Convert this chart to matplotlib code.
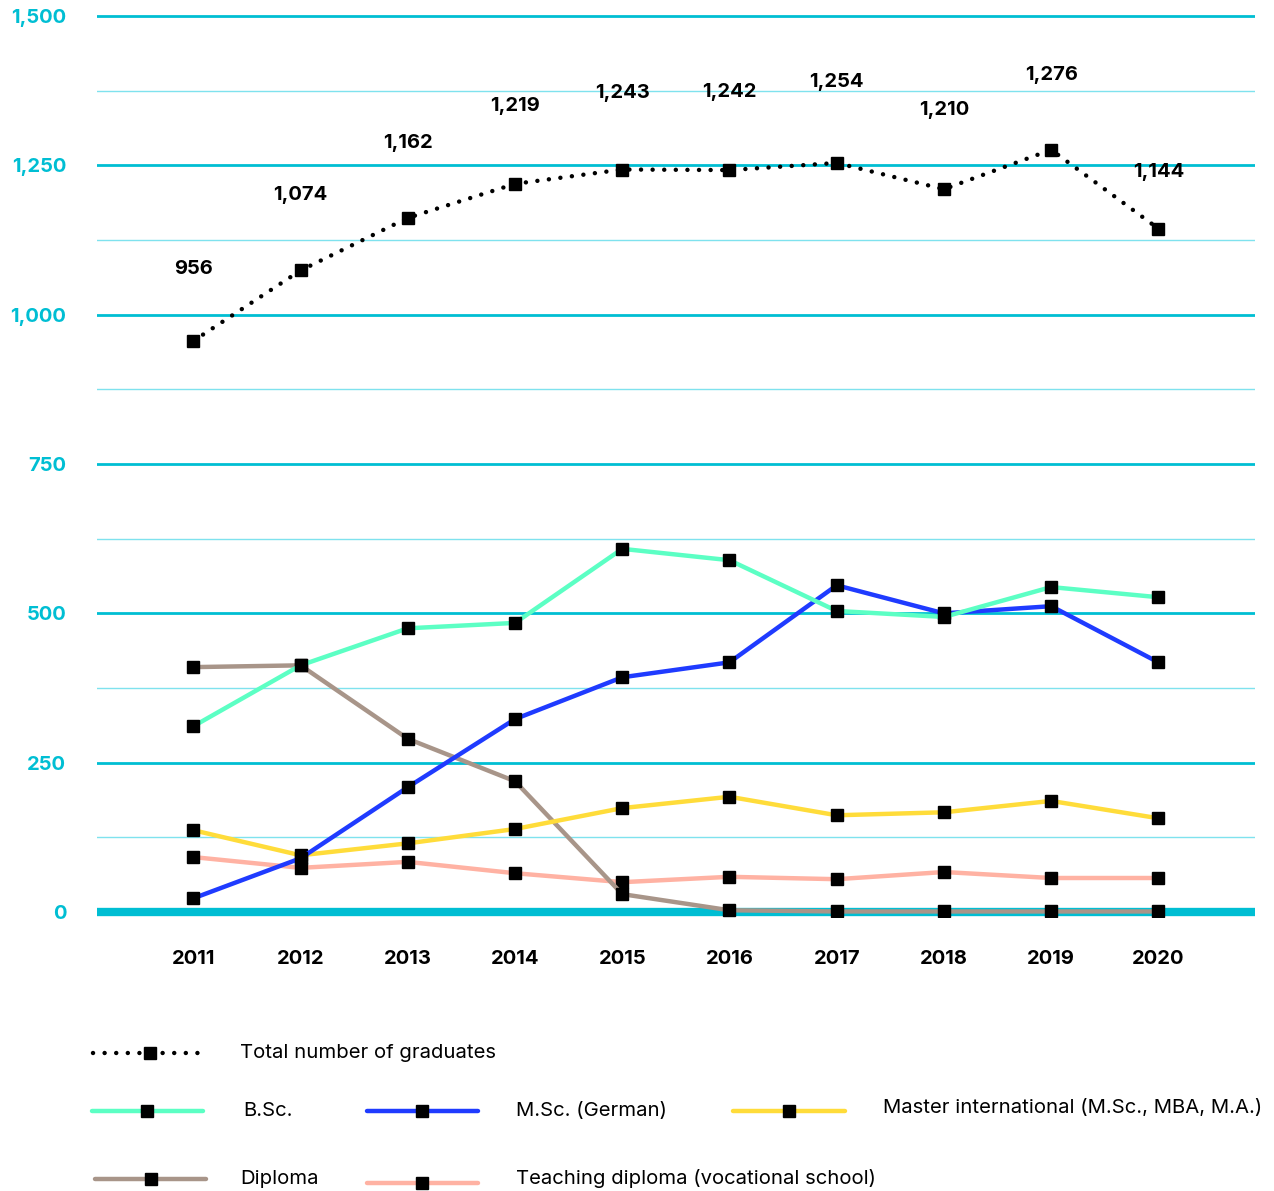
import matplotlib
matplotlib.use("Agg")
import matplotlib.pyplot as plt
from matplotlib.lines import Line2D

plt.rcParams['font.family'] = ['Inter', 'DejaVu Sans']

years = [2011, 2012, 2013, 2014, 2015, 2016, 2017, 2018, 2019, 2020]
total = [956, 1074, 1162, 1219, 1243, 1242, 1254, 1210, 1276, 1144]
bsc = [311, 413, 475, 484, 608, 589, 504, 494, 544, 527]
msc = [23, 90, 209, 323, 393, 418, 547, 500, 512, 418]
master_int = [137, 95, 115, 139, 174, 193, 162, 167, 186, 157]
diploma = [410, 413, 290, 219, 30, 3, 1, 1, 1, 1]
teaching = [92, 74, 84, 65, 50, 59, 55, 67, 57, 57]

# label offsets above the total line (points)
label_offsets = [52, 54, 54, 56, 55, 56, 58, 57, 54, 41]

cyan = '#00BED3'
cyan_light = '#7FE2EE'
c_bsc = '#5CFFC4'
c_msc = '#1F3BFF'
c_master = '#FFDC3A'
c_dipl = '#A89589'
c_teach = '#FFB2A3'

fig = plt.figure(figsize=(12.74, 11.91), dpi=100)
ax = fig.add_axes([0.076, 0.2302, 0.909, 0.7604])

ax.set_xlim(2010.1, 2020.9)
ax.set_ylim(-8, 1508)
ax.set_yticks(range(0, 1501, 250))
ax.set_yticks(range(125, 1500, 250), minor=True)
ax.set_yticklabels([f"{v:,}" for v in range(0, 1501, 250)])
ax.set_xticks(years)
ax.set_xticklabels([str(y) for y in years])
ax.grid(which='major', axis='y', color=cyan, lw=2, zorder=0)
ax.grid(which='minor', axis='y', color=cyan_light, lw=1, zorder=0)
ax.axhline(0, color=cyan, lw=6, zorder=1)
for s in ax.spines.values():
    s.set_visible(False)
ax.tick_params(which='both', length=0)
ax.tick_params(axis='y', pad=22, labelsize=14.5, labelcolor=cyan)
ax.tick_params(axis='x', pad=24, labelsize=14.5)
for t in ax.get_yticklabels() + ax.get_xticklabels():
    t.set_fontweight('bold')

mk = dict(marker='s', markersize=8, markerfacecolor='black', markeredgecolor='black')
ax.plot(years, teaching, color=c_teach, lw=3.2, zorder=2, **mk)
ax.plot(years, diploma, color=c_dipl, lw=3.2, zorder=3, **mk)
ax.plot(years, master_int, color=c_master, lw=3.2, zorder=4, **mk)
ax.plot(years, msc, color=c_msc, lw=3.2, zorder=5, **mk)
ax.plot(years, bsc, color=c_bsc, lw=3.2, zorder=6, **mk)
ax.plot(years, total, color='black', lw=3.2, linestyle=(0, (0.01, 2.6)),
        dash_capstyle='round', zorder=7, **mk)

for x, y, off in zip(years, total, label_offsets):
    ax.annotate(f"{y:,}", (x, y), xytext=(0, off), textcoords='offset points',
                ha='center', va='center', fontsize=14.5, fontweight='bold')

# legend drawn by hand in figure coordinates
def legend_item(x0, x1, y, ty, tx, label, color, dotted=False):
    ls = (0, (0.01, 2.6)) if dotted else '-'
    fig.add_artist(Line2D([x0, x1], [y, y], transform=fig.transFigure, color=color,
                          lw=3.2, linestyle=ls, solid_capstyle='round',
                          dash_capstyle='round'))
    fig.add_artist(Line2D([(x0 + x1) / 2], [y], transform=fig.transFigure,
                          marker='s', markersize=8, color='black', lw=0))
    fig.text(tx, ty, label, fontsize=14.6, va='center', ha='left')

legend_item(0.073, 0.1625, 0.1159, 0.1159, 0.1884, "Total number of graduates", 'black', dotted=True)
legend_item(0.0722, 0.1593, 0.0672, 0.0672, 0.1907, "B.Sc.", c_bsc)
legend_item(0.288, 0.375, 0.0672, 0.0672, 0.405, "M.Sc. (German)", c_msc)
legend_item(0.5754, 0.6633, 0.0672, 0.0697, 0.693, "Master international (M.Sc., MBA, M.A.)", c_master)
legend_item(0.0746, 0.1617, 0.0101, 0.0101, 0.1884, "Diploma", c_dipl)
legend_item(0.288, 0.375, 0.0067, 0.0101, 0.405, "Teaching diploma (vocational school)", c_teach)

fig.savefig("out.png", dpi=100)
